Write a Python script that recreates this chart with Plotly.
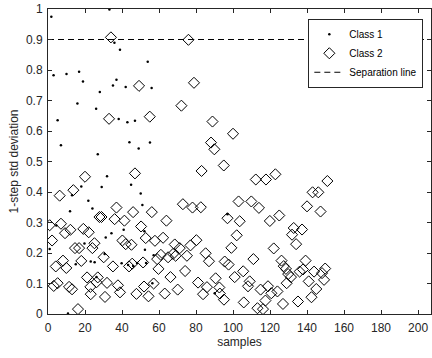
import plotly.graph_objects as go

# Class 1 (dots)
c1_x = [1.8, 3, 5.2, 7, 10, 15.9, 16.8, 18.9, 26, 26.9, 28, 31.9, 33.2, 35.1, 35.9, 37, 38.2, 38.9,
        42, 42.9, 44, 47, 49, 53.9, 55.1, 56,
        29, 13, 18, 21.8, 24, 11.9, 44.9, 50.1, 51,
        0.9, 4.5, 10.8, 15, 19.7, 23.1, 25.2, 26.2, 30.6, 31.2, 34.3, 39.8, 40.9, 43.3, 46, 48.1,
        52.4, 52.1, 53, 56.4, 57.1, 90.1, 97]
c1_y = [0.975, 0.783, 0.635, 0.553, 0.787, 0.690, 0.794, 0.762, 0.673, 0.524, 0.728, 0.452, 0.998, 0.749, 0.889, 0.768, 0.639, 0.866,
        0.744, 0.629, 0.563, 0.634, 0.543, 0.827, 0.562, 0.741,
        0.416, 0.389, 0.418, 0.371, 0.346, 0.337, 0.424, 0.395, 0.357,
        0.213, 0.290, 0.002, 0.163, 0.231, 0.172, 0.170, 0.121, 0.197, 0.251, 0.265, 0.166, 0.276, 0.161, 0.157, 0.167,
        0.211, 0.271, 0.167, 0.101, 0.193, 0.068, 0.327]

# Class 2 (diamonds)
c2_x = [0.9, 2.2, 3.1, 4.2, 5.2, 6.3, 7, 8.1, 9.2, 9.9, 11.4, 12.1, 13, 13.7, 14.6, 16.2, 16.8, 18, 19.1, 20,
        21.1, 22, 22.9, 23.1, 24, 25.1, 26.2, 26.9, 27.8, 28.9, 30.1, 30.8, 31.9, 33, 34, 35.1, 36, 37, 37.8, 38.9,
        40.2, 41.3, 42, 43.8, 45.1, 45.5, 46, 47, 47.8, 49.2, 50.3, 51.4, 51.9, 52.8, 54.3, 55, 56.1, 57.1, 57.8, 59,
        59.7, 61, 62.2, 63.1, 64, 64.9, 66.2, 67.6, 68.5, 69, 70.1, 71.2, 72.1, 72.9, 74.1, 75.1, 75.9, 77, 78.1, 78.9,
        80.2, 81.1, 82.6, 83, 83.8, 85.2, 85.9, 87, 88.1, 88.9, 89.9, 90.6, 92.6, 92.9, 95, 95.1, 95.5, 97, 97.6, 99.1,
        100, 100.9, 102, 103, 103.6, 105.5, 105.8, 108.1, 109, 109.9, 111, 112.3, 113.2, 114, 114.9, 116.2, 117.5, 117.8, 118.9, 119.9,
        120.7, 122, 122.9, 124, 125, 126.2, 127, 127.4, 128.6, 129, 129.8, 131.3, 131.9, 132.8, 134.1, 135.1, 136, 137.3, 137.8, 139.2,
        140, 140.9, 142.4, 143, 143.8, 145, 146.1, 147.3, 148.1, 149.2, 149.8, 151]
c2_y = [0.291, 0.241, 0.092, 0.156, 0.101, 0.388, 0.296, 0.175, 0.265, 0.151, 0.089, 0.276, 0.081, 0.406, 0.216, 0.016, 0.216, 0.174, 0.279, 0.450,
        0.120, 0.268, 0.089, 0.065, 0.216, 0.232, 0.104, 0.120, 0.318, 0.318, 0.186, 0.056, 0.102, 0.640, 0.907, 0.156, 0.311, 0.349, 0.094, 0.071,
        0.241, 0.306, 0.229, 0.156, 0.227, 0.165, 0.334, 0.461, 0.066, 0.748, 0.287, 0.169, 0.090, 0.249, 0.058, 0.647, 0.334, 0.100, 0.240, 0.180,
        0.148, 0.194, 0.250, 0.067, 0.306, 0.186, 0.121, 0.197, 0.228, 0.191, 0.080, 0.216, 0.683, 0.360, 0.141, 0.191, 0.899, 0.225, 0.349, 0.758,
        0.242, 0.103, 0.350, 0.469, 0.065, 0.199, 0.088, 0.173, 0.562, 0.631, 0.540, 0.117, 0.087, 0.067, 0.487, 0.047, 0.172, 0.314, 0.162, 0.217,
        0.591, 0.121, 0.258, 0.369, 0.304, 0.140, 0.038, 0.091, 0.107, 0.369, 0.180, 0.441, 0.019, 0.348, 0.080, 0.016, 0.044, 0.441, 0.091, 0.305,
        0.068, 0.215, 0.458, 0.074, 0.323, 0.175, 0.033, 0.157, 0.148, 0.101, 0.131, 0.121, 0.260, 0.282, 0.229, 0.041, 0.139, 0.277, 0.146, 0.175,
        0.353, 0.107, 0.055, 0.399, 0.139, 0.082, 0.399, 0.336, 0.134, 0.112, 0.149, 0.436]

sep_value = 0.9
x_range = [0, 207]
y_range = [0, 1]
x_ticks = [0, 20, 40, 60, 80, 100, 120, 140, 160, 180, 200]
y_ticks = [0, 0.1, 0.2, 0.3, 0.4, 0.5, 0.6, 0.7, 0.8, 0.9, 1]
y_tick_text = ["0", "0.1", "0.2", "0.3", "0.4", "0.5", "0.6", "0.7", "0.8", "0.9", "1"]

FONT = "Liberation Sans, Arial, sans-serif"
AX = "#262626"

fig = go.Figure()
fig.add_trace(go.Scatter(x=c1_x, y=c1_y, mode="markers", name="Class 1",
                         marker=dict(symbol="circle", size=2.5, color="black", line=dict(width=0))))
fig.add_trace(go.Scatter(x=c2_x, y=c2_y, mode="markers", name="Class 2",
                         marker=dict(symbol="diamond-open", size=8.5, color="black", line=dict(width=1, color="black"))))
fig.add_trace(go.Scatter(x=x_range, y=[sep_value, sep_value], mode="lines", name="Separation line",
                         line=dict(color="black", width=1, dash="6px,4px")))

fig.update_layout(
    width=432, height=358,
    margin=dict(l=48, r=1, t=9, b=44),
    paper_bgcolor="white", plot_bgcolor="white",
    font=dict(family=FONT, size=12, color=AX),
    showlegend=True,
    legend=dict(x=0.98, y=0.968, xanchor="right", yanchor="top",
                bgcolor="white", bordercolor=AX, borderwidth=1,
                font=dict(size=10, color="black"),
                tracegroupgap=0, itemwidth=30),
)
fig.update_xaxes(range=x_range, tickvals=x_ticks, ticks="inside", ticklen=4, tickcolor=AX,
                 showline=True, linecolor=AX, linewidth=1, mirror="ticks", showgrid=False, zeroline=False,
                 ticklabelstandoff=3,
                 title=dict(text="samples", font=dict(size=12, color=AX), standoff=2),
                 tickfont=dict(size=12, color=AX))
fig.update_yaxes(range=y_range, tickvals=y_ticks, ticktext=y_tick_text, ticks="inside", ticklen=4, tickcolor=AX,
                 showline=True, linecolor=AX, linewidth=1, mirror="ticks", showgrid=False, zeroline=False,
                 ticklabelstandoff=2,
                 title=dict(text="1-step std deviation", font=dict(size=12, color=AX), standoff=4),
                 tickfont=dict(size=12, color=AX))

fig.write_html("out.html")
